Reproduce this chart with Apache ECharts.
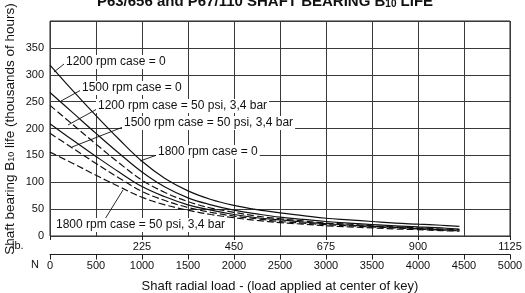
<!DOCTYPE html>
<html>
<head>
<meta charset="utf-8">
<script src="https://cdn.jsdelivr.net/npm/echarts@6/dist/echarts.min.js"></script>
<style>
  html, body { margin: 0; padding: 0; background: #fff; }
  #main { width: 525px; height: 293px; }
</style>
</head>
<body>
<div id="main"></div>
<script>
// shaft radial load (N) at which each curve was read
const loadN = [0, 250, 500, 750, 1000, 1250, 1500, 1750, 2000, 2250, 2500, 2750, 3000, 3250, 3500, 3750, 4000, 4250, 4450];
// B10 life, thousands of hours
const rpm1200Case0 = [318, 270, 224, 180, 139, 107, 84, 68, 57, 49, 43, 38, 33, 30, 27, 24, 22, 20, 18];
const rpm1500Case0 = [267, 229, 191, 154, 119, 91, 71, 58, 48, 41, 35, 31, 27, 24, 21, 19, 17, 15, 13];
const rpm1200Case50 = [243, 207, 171, 136, 104, 81, 64, 52, 44, 37, 32, 28, 24, 22, 19, 17, 15, 13, 12];
const rpm1800Case0 = [209, 178, 148, 119, 92, 73, 58, 48, 40, 34, 30, 26, 23, 20, 18, 16, 14, 12, 11];
const rpm1500Case50 = [191, 163, 135, 108, 83, 66, 53, 44, 37, 32, 27, 24, 21, 19, 17, 15, 13, 11, 10];
const rpm1800Case50 = [156, 135, 113, 92, 72, 58, 48, 40, 34, 29, 25, 22, 19, 17, 15, 13, 12, 10, 9];

const curves = [
  { name: '1200 rpm case = 0', values: rpm1200Case0, dashed: false },
  { name: '1500 rpm case = 0', values: rpm1500Case0, dashed: false },
  { name: '1200 rpm case = 50 psi, 3,4 bar', values: rpm1200Case50, dashed: true },
  { name: '1800 rpm case = 0', values: rpm1800Case0, dashed: false },
  { name: '1500 rpm case = 50 psi, 3,4 bar', values: rpm1500Case50, dashed: true },
  { name: '1800 rpm case = 50 psi, 3,4 bar', values: rpm1800Case50, dashed: true },
];

// callout text and leader lines (pixel positions)
const notes = [
  { text: '1200 rpm case = 0', x: 64, y: 62, line: [64, 64, 54, 72] },
  { text: '1500 rpm case = 0', x: 80, y: 88, line: [81, 90, 61, 101] },
  { text: '1200 rpm case = 50 psi, 3,4 bar', x: 96, y: 106, line: [97, 109, 68, 125] },
  { text: '1500 rpm case = 50 psi, 3,4 bar', x: 122, y: 123, line: [123, 127, 72, 147] },
  { text: '1800 rpm case = 0', x: 156, y: 152, line: [157, 155, 140, 161] },
  { text: '1800 rpm case = 50 psi, 3,4 bar', x: 54, y: 225, line: [105, 219, 123, 190] },
];

const FONT = 'Arial, "Liberation Sans", sans-serif';
const gridColor = '#3a3a3a';
const axisColor = '#1e1e1e';
const plain = v => String(v);

const chart = echarts.init(document.getElementById('main'));

const graphics = [];
notes.forEach((n) => {
  graphics.push({
    type: 'line',
    z: 100,
    silent: true,
    shape: { x1: n.line[0], y1: n.line[1], x2: n.line[2], y2: n.line[3] },
    style: { stroke: '#111', lineWidth: 0.9 },
  });
  graphics.push({
    type: 'text',
    z: 101,
    silent: true,
    x: n.x,
    y: n.y,
    style: {
      text: n.text,
      font: '12px ' + FONT,
      fill: '#111',
      verticalAlign: 'middle',
      backgroundColor: '#fff',
      padding: [1, 2],
    },
  });
});

// title (top half clipped by the page edge)
graphics.push({
  type: 'text',
  x: 265,
  y: 9.5,
  silent: true,
  style: {
    text: '{t|P63/656 and P67/110 SHAFT BEARING B}{s|10}{t| LIFE}',
    align: 'center',
    verticalAlign: 'bottom',
    rich: {
      t: { font: 'bold 15px ' + FONT, fill: '#111' },
      s: { font: 'bold 10px ' + FONT, fill: '#111', verticalAlign: 'bottom' },
    },
  },
});

// y axis title
graphics.push({
  type: 'text',
  x: 10,
  y: 129,
  rotation: Math.PI / 2,
  silent: true,
  style: {
    text: '{t|Shaft bearing B}{s|10}{t| life (thousands of hours)}',
    align: 'center',
    verticalAlign: 'middle',
    rich: {
      t: { font: '13.5px ' + FONT, fill: '#111' },
      s: { font: '9px ' + FONT, fill: '#111', padding: [4, 0, 0, 0] },
    },
  },
});

graphics.push({
  type: 'text', x: 12, y: 246, silent: true,
  style: { text: 'lb.', font: '11px ' + FONT, fill: '#111', verticalAlign: 'middle' },
});
graphics.push({
  type: 'text', x: 31, y: 265, silent: true,
  style: { text: 'N', font: '11px ' + FONT, fill: '#111', verticalAlign: 'middle' },
});

chart.setOption({
  animation: false,
  backgroundColor: '#fff',
  grid: [
    {
      left: 50,
      right: 15,
      top: 21,
      bottom: 57,
      outerBoundsMode: 'none',
      show: true,
      borderColor: '#222',
      borderWidth: 1,
    },
    // flat strip whose edge is the newton scale line
    {
      left: 50,
      right: 15,
      top: 254.5,
      height: 0,
      outerBoundsMode: 'none',
      show: true,
      backgroundColor: 'transparent',
      borderColor: axisColor,
      borderWidth: 1,
    },
  ],
  xAxis: [
    {
      // newton scale in the plot: only the vertical grid lines
      type: 'value',
      gridIndex: 0,
      min: 0,
      max: 5000,
      interval: 500,
      axisLine: { show: false },
      axisTick: { show: false },
      axisLabel: { show: false },
      splitLine: { show: true, lineStyle: { color: gridColor, width: 1 } },
    },
    {
      type: 'value',
      gridIndex: 0,
      min: 0,
      max: 1125,
      interval: 225,
      position: 'bottom',
      axisLine: { show: false },
      axisTick: { show: true, length: 4, lineStyle: { color: axisColor, width: 1 } },
      axisLabel: {
        fontFamily: FONT,
        fontSize: 11,
        color: '#111',
        margin: 5,
        formatter: v => (v === 0 ? '' : String(v)),
      },
      splitLine: { show: false },
    },
    {
      type: 'value',
      gridIndex: 1,
      min: 0,
      max: 5000,
      interval: 500,
      position: 'bottom',
      name: 'Shaft radial load - (load applied at center of key)',
      nameLocation: 'middle',
      nameGap: 25,
      nameTextStyle: { fontFamily: FONT, fontSize: 13, color: '#111' },
      axisLine: { show: true, onZero: false, lineStyle: { color: axisColor, width: 1 } },
      axisTick: { show: true, length: 5, lineStyle: { color: axisColor, width: 1 } },
      axisLabel: { fontFamily: FONT, fontSize: 11, color: '#111', margin: 6, formatter: plain },
      splitLine: { show: false },
    },
  ],
  yAxis: [
    {
      type: 'value',
      gridIndex: 0,
      min: 0,
      max: 400,
      interval: 50,
      axisLine: { show: false },
      axisTick: { show: false },
      axisLabel: {
        fontFamily: FONT,
        fontSize: 11,
        color: '#111',
        margin: 6,
        formatter: v => (v === 400 ? '' : String(v)),
      },
      splitLine: { show: true, lineStyle: { color: gridColor, width: 1 } },
    },
    {
      type: 'value',
      gridIndex: 1,
      show: false,
      min: 0,
      max: 1,
    },
  ],
  series: curves.map(c => ({
    type: 'line',
    name: c.name,
    xAxisIndex: 0,
    yAxisIndex: 0,
    data: loadN.map((n, i) => [n, c.values[i]]),
    smooth: 0.4,
    symbol: 'none',
    silent: true,
    lineStyle: { color: '#111', width: 1.2, type: c.dashed ? [7, 3] : 'solid' },
    z: 3,
  })),
  graphic: graphics,
});
</script>
</body>
</html>
